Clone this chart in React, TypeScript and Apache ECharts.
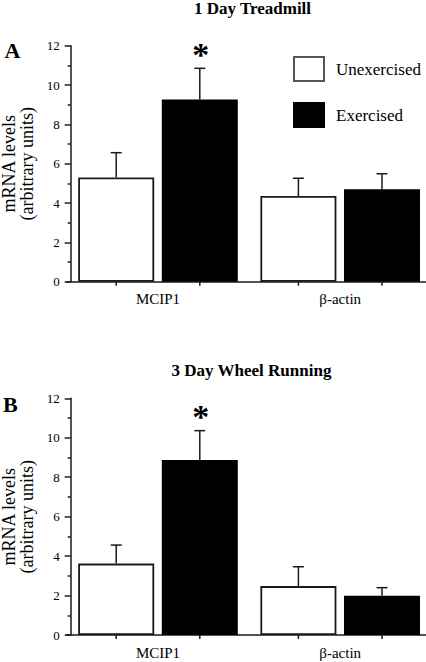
import React, { useEffect, useRef } from "react";
import * as echarts from "echarts";

// ---- data ----
const categories = ["MCIP1", "β-actin"];
const groupNames = ["Unexercised", "Exercised"];
const panelTitles = ["1 Day Treadmill", "3 Day Wheel Running"];
const panelLetters = ["A", "B"];
const yAxisName = "mRNA levels\n(arbitrary units)";
const yMin = 0;
const yMax = 12;
const yInterval = 2;

// Panel A: 1 day treadmill
const treadmillUnex = [5.3, 4.36];
const treadmillUnexErr = [1.26, 0.9];
const treadmillEx = [9.27, 4.7];
const treadmillExErr = [1.58, 0.79];
const treadmillExSig = [1, 0];

// Panel B: 3 day wheel running
const wheelUnex = [3.62, 2.48];
const wheelUnexErr = [0.94, 0.98];
const wheelEx = [8.87, 1.99];
const wheelExErr = [1.49, 0.41];
const wheelExSig = [1, 0];

// ---- style / layout ----
const FONT = "Liberation Serif";
const INK = "#1a1a1a";
const BAR_W = 76;
const BAR_GAP = 0.1;
const GRID_LEFT = 66.9;
const GRID_W = 364.4;
const GRIDS = [
  { top: 45.7, height: 236 },
  { top: 398.3, height: 236.7 },
];

function buildErr(means: number[], errs: number[], g: number, sig: number[]) {
  return means.map((m, i) => [i, g, m, errs[i], sig[i]]);
}

function renderErr(params: any, api: any) {
  const cat = api.value(0);
  const g = api.value(1);
  const mean = api.value(2);
  const err = api.value(3);
  const sig = api.value(4);
  const base = api.coord([cat, 0]);
  const pm = api.coord([cat, mean]);
  const pt = api.coord([cat, mean + err]);
  const off = ((BAR_W + BAR_W * BAR_GAP) / 2) * (g === 0 ? -1 : 1);
  const x = base[0] + off;
  const lineStyle = { stroke: INK, lineWidth: 1.5 };
  const children: any[] = [
    { type: "line", shape: { x1: x, y1: pm[1], x2: x, y2: pt[1] }, style: lineStyle },
    { type: "line", shape: { x1: x - 5.5, y1: pt[1], x2: x + 5.5, y2: pt[1] }, style: lineStyle },
    { type: "line", shape: { x1: x, y1: base[1], x2: x, y2: base[1] + 4 }, style: lineStyle },
  ];
  if (sig) {
    children.push({
      type: "text",
      x: x + 1,
      y: pt[1] - 14,
      style: {
        text: "*",
        fontSize: 34,
        fontWeight: "bold",
        fontFamily: FONT,
        fill: "#000",
        align: "center",
        verticalAlign: "middle",
      },
    });
  }
  return { type: "group", children };
}

export default function App() {
  const ref = useRef<HTMLDivElement>(null);

  useEffect(() => {
    if (!ref.current) return;
    const chart = echarts.init(ref.current, undefined, { renderer: "svg" });

    const panels = [
      { unex: treadmillUnex, unexErr: treadmillUnexErr, ex: treadmillEx, exErr: treadmillExErr, sig: treadmillExSig },
      { unex: wheelUnex, unexErr: wheelUnexErr, ex: wheelEx, exErr: wheelExErr, sig: wheelExSig },
    ];

    const grid = GRIDS.map((g) => ({
      left: GRID_LEFT,
      width: GRID_W,
      top: g.top,
      height: g.height,
      containLabel: false,
      outerBoundsMode: "none",
    }));

    const xAxis = GRIDS.map((_, i) => ({
      type: "category",
      gridIndex: i,
      data: categories,
      axisLine: { lineStyle: { color: INK, width: 1.5 } },
      axisTick: { show: false },
      axisLabel: { fontSize: 15, fontFamily: FONT, color: "#000", margin: 10 },
    }));

    const yAxis = GRIDS.map((_, i) => ({
      type: "value",
      gridIndex: i,
      min: yMin,
      max: yMax,
      interval: yInterval,
      offset: -3.8,
      name: yAxisName,
      nameLocation: "middle",
      nameRotate: 90,
      nameGap: 33,
      nameTextStyle: { fontSize: 18, lineHeight: 17.5, fontFamily: FONT, color: "#000" },
      axisLine: { show: true, lineStyle: { color: INK, width: 1.5 } },
      axisTick: { show: true, length: 6, lineStyle: { color: INK, width: 1.5 } },
      minorTick: { show: true, splitNumber: 2, length: 3, lineStyle: { color: INK, width: 1.5 } },
      splitLine: { show: false },
      axisLabel: { fontSize: 13, fontFamily: FONT, color: "#000", margin: 11 },
    }));

    const series: any[] = [];
    panels.forEach((p, i) => {
      series.push({
        type: "bar",
        name: groupNames[0],
        xAxisIndex: i,
        yAxisIndex: i,
        data: p.unex,
        barWidth: BAR_W,
        barGap: `${BAR_GAP * 100}%`,
        itemStyle: { color: "#fff", borderColor: INK, borderWidth: 1.8 },
      });
      series.push({
        type: "bar",
        name: groupNames[1],
        xAxisIndex: i,
        yAxisIndex: i,
        data: p.ex,
        barWidth: BAR_W,
        barGap: `${BAR_GAP * 100}%`,
        itemStyle: { color: "#000", borderColor: "#000", borderWidth: 1.8 },
      });
      series.push({
        type: "custom",
        xAxisIndex: i,
        yAxisIndex: i,
        renderItem: renderErr,
        encode: { x: 0, y: 2 },
        data: [...buildErr(p.unex, p.unexErr, 0, [0, 0]), ...buildErr(p.ex, p.exErr, 1, p.sig)],
        z: 5,
      });
    });

    const titleStyle = { fontSize: 17, fontWeight: "bold", fontFamily: FONT, fill: "#000", align: "center", verticalAlign: "middle" };
    const letterStyle = { fontSize: 22, fontWeight: "bold", fontFamily: FONT, fill: "#000", align: "left", verticalAlign: "middle" };
    const graphic: any[] = [
      { type: "text", x: 252.5, y: 8.5, style: { ...titleStyle, text: panelTitles[0] } },
      { type: "text", x: 251.5, y: 370, style: { ...titleStyle, text: panelTitles[1] } },
      { type: "text", x: 4.5, y: 50, style: { ...letterStyle, text: panelLetters[0] } },
      { type: "text", x: 3, y: 404.3, style: { ...letterStyle, text: panelLetters[1] } },
    ];

    chart.setOption({
      animation: false,
      backgroundColor: "#fff",
      textStyle: { fontFamily: FONT },
      grid,
      xAxis,
      yAxis,
      series,
      graphic,
      legend: {
        orient: "vertical",
        left: 288,
        top: 51,
        itemWidth: 30,
        itemHeight: 24,
        itemGap: 20,
        icon: "rect",
        selectedMode: false,
        textStyle: { fontSize: 17, fontFamily: FONT, color: "#000", padding: [0, 0, 0, 7] },
        data: [
          { name: groupNames[0], itemStyle: { color: "#fff", borderColor: "#555", borderWidth: 2 } },
          { name: groupNames[1], itemStyle: { color: "#000", borderColor: "#000", borderWidth: 2 } },
        ],
      },
    });

    return () => chart.dispose();
  }, []);

  return (
    <div
      ref={ref}
      style={{ position: "fixed", left: 0, top: 0, width: 426, height: 662, background: "#fff" }}
    />
  );
}
